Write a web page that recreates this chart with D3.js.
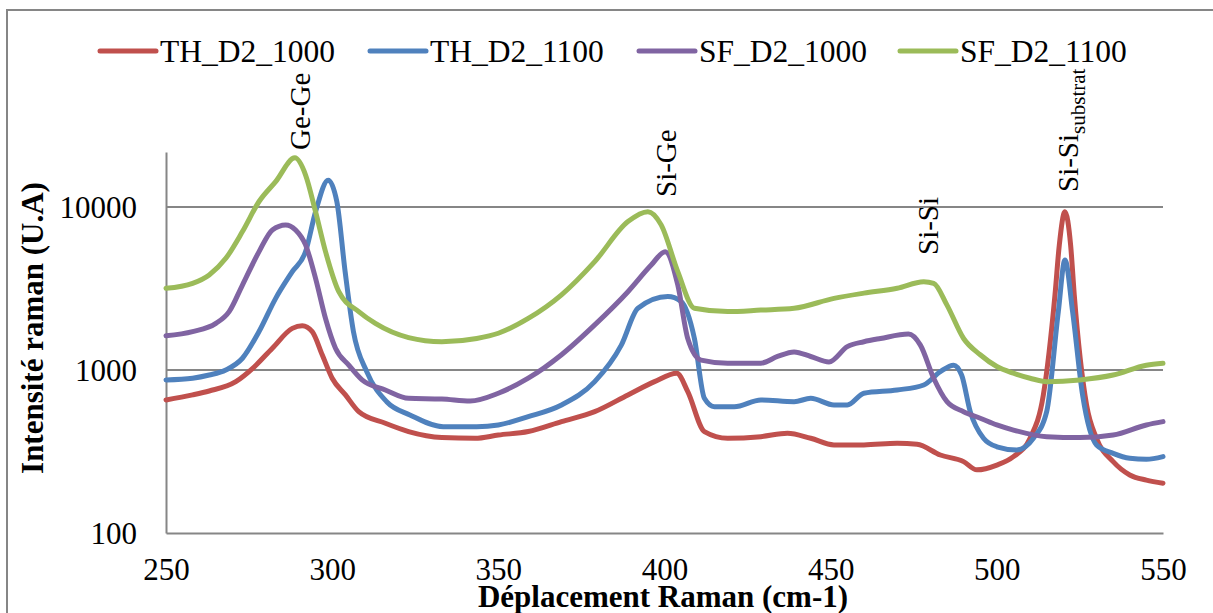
<!DOCTYPE html>
<html><head><meta charset="utf-8">
<script src="https://cdn.jsdelivr.net/npm/d3@7"></script>
<style>body{margin:0;background:#fff}svg{display:block}text{font-family:"Liberation Serif","Times New Roman",serif;fill:#000}</style>
</head><body><svg id="c" width="1213" height="613"></svg>
<script>
const seriesNames = ["TH_D2_1000","TH_D2_1100","SF_D2_1000","SF_D2_1100"];
const seriesColors = ["#C0504D","#4F81BD","#8064A2","#9BBB59"];
const xTicks = [250,300,350,400,450,500,550];
const yTicks = [100,1000,10000];

const th1000X = [250,258,263,271,276,282,288,291,294,297,300,304,308,316,323,333,343,350,359,369,379,389,397,403.7,407,412,419,429,437,444,451,460,470,476,483,490,494,500,505,510,514,517.5,518.8,520.5,522.2,523.3,527,530,535,540,545,550];
const th1000Y = [655,703,743,848,1020,1360,1800,1870,1720,1240,890,703,555,471,419,385,381,399,419,482,555,703,848,955,736,419,381,390,409,381,347,347,355,350,301,274,244,261,294,381,703,2890,5850,9350,5850,2890,610,381,274,227,211,202];

const th1100X = [250,258,263,268,273,278,283,288,292,295,298.8,301.4,303.9,306.4,310.4,316.4,323.4,333.4,343.5,350,359,369,379,387,392,401,405,409,412,415,421,429,439,444,451,455,460,470,478,483,487,489.4,492,496,500,506,511,515,518.5,520.5,522.8,525.8,530,535,540,545,550];
const th1100Y = [869,890,931,1000,1180,1720,2750,4010,5320,9350,14600,10800,4010,1720,977,639,530,449,449,460,517,610,848,1420,2390,2820,2630,1560,670,595,595,655,639,670,610,610,720,754,809,977,1070,931,555,381,338,323,381,555,2280,4730,2280,703,347,308,287,283,294];

const sf1000X = [250,258,265,269,273,278,282,286,289,292,295,298,301,305,309,316,323,333,341.5,350,359,369,379,389,396,400.2,404,407,411,419,429,434,439,444,449.5,455,460,465,473.4,477,481,485,490,495,500,505,515,525,535,545,550];
const sf1000Y = [1620,1720,1930,2280,3320,5320,7230,7760,7230,5850,3650,2070,1360,1070,869,754,670,664,645,720,890,1240,1890,3020,4400,5320,3320,1560,1150,1100,1100,1210,1290,1210,1120,1390,1490,1560,1660,1420,890,639,555,506,460,428,390,385,399,460,482];

const sf1100X = [250,258,263,268,273,278,283,288.8,292,295,298,302,308,313,323,333,343.5,350,359,369,379,389,395,399,404,409,419,429,439,451,460,470,478,481,485,490,495,500,505,510,515,525,535,545,550];
const sf1100Y = [3170,3400,3830,4840,7060,10800,14300,20000,15700,9350,5320,3020,2280,1930,1580,1490,1560,1680,2070,2890,4620,8130,9350,7760,4010,2390,2280,2330,2390,2750,2960,3170,3480,3400,2500,1560,1240,1050,955,890,848,869,931,1070,1100];

const allX = [th1000X, th1100X, sf1000X, sf1100X];
const allY = [th1000Y, th1100Y, sf1000Y, sf1100Y];

const annotations = [
  {x:290, label:"Ge-Ge", sub:"", top:150},
  {x:400, label:"Si-Ge", sub:"", top:197},
  {x:479, label:"Si-Si", sub:"", top:255},
  {x:521, label:"Si-Si", sub:"substrat", top:192}
];

const svg = d3.select("#c");
const L=166, R=1163, T=152, B=533;
const x = d3.scaleLinear().domain([250,550]).range([L,R]);
const y = d3.scaleLog().domain([100, Math.pow(10,4.337)]).range([B,T]);

// outer border
svg.append("rect").attr("x",7).attr("y",10).attr("width",1230).attr("height",640)
  .attr("fill","none").attr("stroke","#868686").attr("stroke-width",2);

// gridlines
svg.append("g").selectAll("line").data(yTicks.slice(1)).join("line")
  .attr("x1",L).attr("x2",R).attr("y1",d=>y(d)).attr("y2",d=>y(d))
  .attr("stroke","#868686").attr("stroke-width",2);

// axes
const gx = svg.append("g").attr("transform",`translate(0,${B})`)
  .call(d3.axisBottom(x).tickValues(xTicks).tickSize(0).tickPadding(0).tickFormat(d3.format("d")));
gx.select(".domain").attr("stroke","#868686").attr("stroke-width",2);
gx.selectAll("text").attr("font-size",31).attr("dy",0).attr("y",47)
  .style("font-family","'Liberation Serif',serif").attr("fill","#000");

const gy = svg.append("g").attr("transform",`translate(${L},0)`)
  .call(d3.axisLeft(y).tickValues(yTicks).tickSize(0).tickPadding(0).tickFormat(d3.format("d")));
gy.select(".domain").attr("stroke","#868686").attr("stroke-width",2);
gy.selectAll("text").attr("font-size",31).attr("x",-29).attr("dy","0.34em")
  .style("font-family","'Liberation Serif',serif").attr("fill","#000");

// lines
const line = d3.line().x(d=>x(d[0])).y(d=>y(d[1])).curve(d3.curveMonotoneX);
allX.forEach((xs,i)=>{
  const pts = xs.map((v,j)=>[v, allY[i][j]]);
  svg.append("path").datum(pts).attr("d",line).attr("fill","none")
    .attr("stroke",seriesColors[i]).attr("stroke-width",5)
    .attr("stroke-linejoin","round").attr("stroke-linecap","round");
});

// annotations
annotations.forEach(a=>{
  const t = svg.append("text").attr("transform",`translate(${x(a.x)+11},${a.top}) rotate(-90)`)
    .attr("font-size",29).text(a.label);
  if(a.sub){
    t.append("tspan").attr("font-size",21).attr("dy",7).text(a.sub);
  }
});

// legend
const legX = [100,370,639,900];
seriesNames.forEach((n,i)=>{
  svg.append("line").attr("x1",legX[i]).attr("x2",legX[i]+56).attr("y1",51).attr("y2",51)
    .attr("stroke",seriesColors[i]).attr("stroke-width",5).attr("stroke-linecap","round");
  svg.append("text").attr("x",legX[i]+60).attr("y",62).attr("font-size",31.5).text(n);
});

// axis titles
svg.append("text").attr("x",663).attr("y",607).attr("text-anchor","middle")
  .attr("font-size",31).attr("font-weight","bold").text("Déplacement Raman (cm-1)");
svg.append("text").attr("transform","translate(43,328) rotate(-90)").attr("text-anchor","middle")
  .attr("font-size",31).attr("font-weight","bold").text("Intensité raman (U.A)");
</script></body></html>
